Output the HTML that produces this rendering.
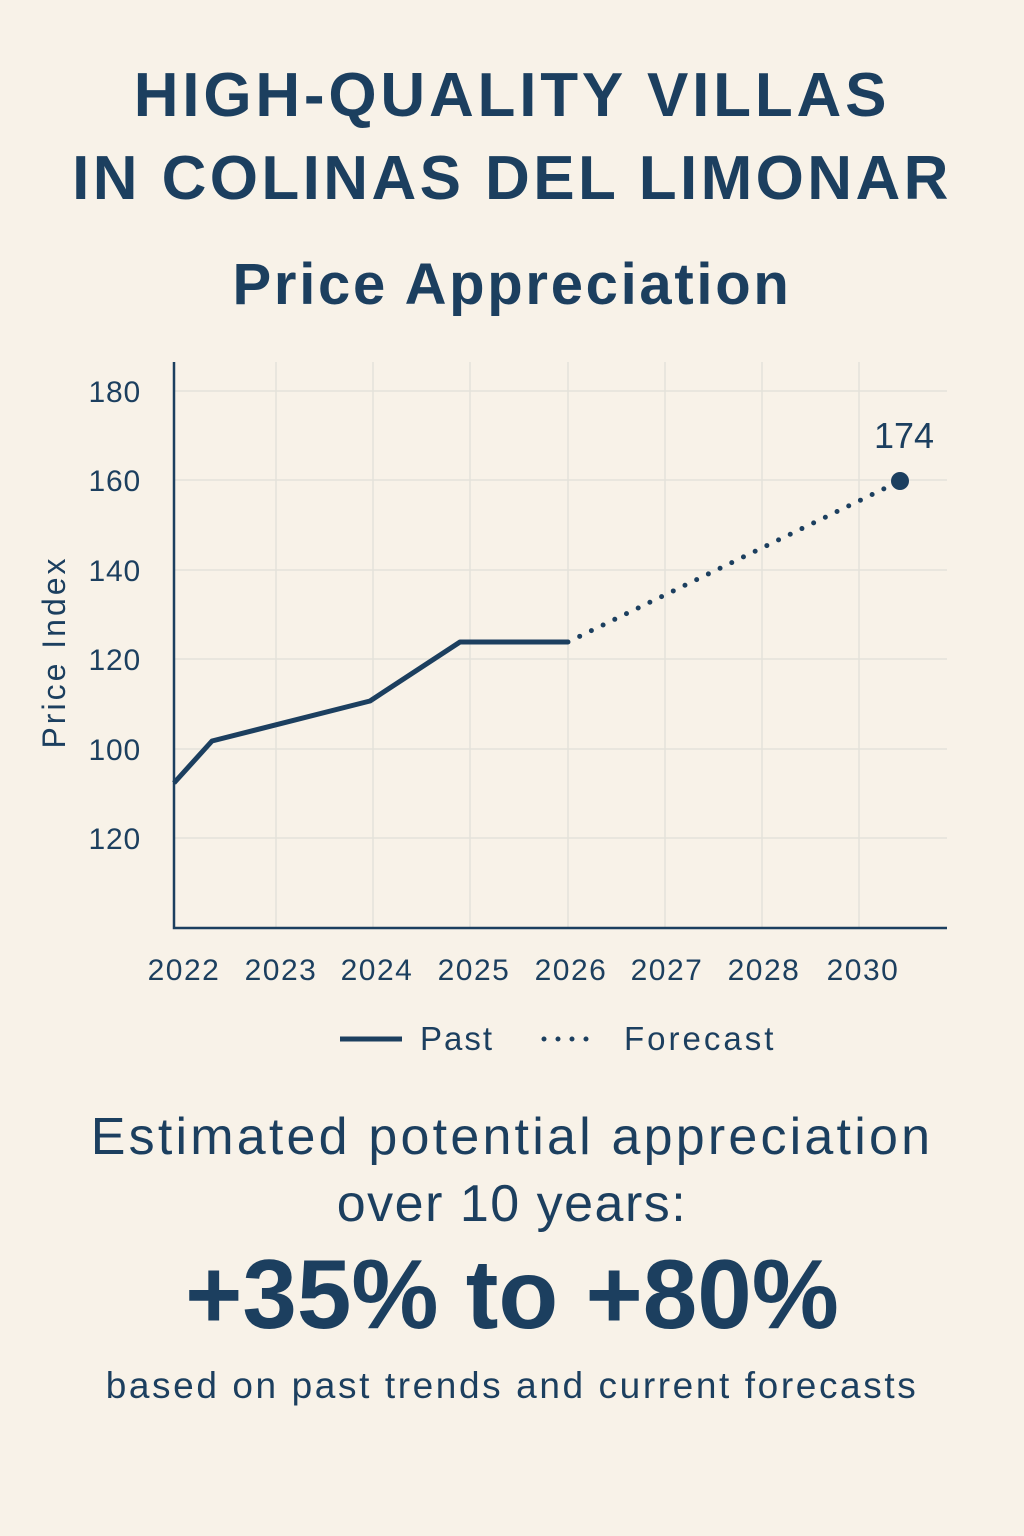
<!DOCTYPE html>
<html><head><meta charset="utf-8"><style>
html,body{margin:0;padding:0;}
body{width:1024px;height:1536px;background:#f8f2e8;font-family:"Liberation Sans","DejaVu Sans",sans-serif;color:#1c3f5f;position:relative;overflow:hidden}
.t{position:absolute;left:0;width:1024px;text-align:center;white-space:nowrap}
</style></head><body>
<div class="t" style="top:60px;font-size:62px;font-weight:bold;letter-spacing:3.8px;line-height:72px">HIGH-QUALITY VILLAS</div>
<div class="t" style="top:143px;font-size:62px;font-weight:bold;letter-spacing:3.4px;line-height:72px">IN COLINAS DEL LIMONAR</div>
<div class="t" style="top:250px;font-size:58px;font-weight:bold;letter-spacing:2.7px;line-height:70px">Price Appreciation</div>
<svg width="1024" height="1100" style="position:absolute;left:0;top:0" font-family="Liberation Sans, sans-serif" fill="#1c3f5f">
<g stroke="#e4e2da" stroke-width="1.5">
<line x1="174" x2="947" y1="391" y2="391"/><line x1="174" x2="947" y1="480" y2="480"/><line x1="174" x2="947" y1="570" y2="570"/><line x1="174" x2="947" y1="659" y2="659"/><line x1="174" x2="947" y1="749" y2="749"/><line x1="174" x2="947" y1="838" y2="838"/>
<line x1="276" x2="276" y1="362" y2="928"/><line x1="373" x2="373" y1="362" y2="928"/><line x1="470" x2="470" y1="362" y2="928"/><line x1="568" x2="568" y1="362" y2="928"/><line x1="665" x2="665" y1="362" y2="928"/><line x1="762" x2="762" y1="362" y2="928"/><line x1="859" x2="859" y1="362" y2="928"/>
</g>
<path d="M174 362V928H947" stroke="#1c3f5f" stroke-width="2.5" fill="none"/>
<g font-size="30" text-anchor="end" letter-spacing="0.8">
<text x="141" y="402">180</text><text x="141" y="491">160</text><text x="141" y="581">140</text><text x="141" y="670">120</text><text x="141" y="760">100</text><text x="141" y="849">120</text>
</g>
<g font-size="30" text-anchor="middle" letter-spacing="1.5">
<text x="184" y="980">2022</text><text x="281" y="980">2023</text><text x="377" y="980">2024</text><text x="474" y="980">2025</text><text x="571" y="980">2026</text><text x="667" y="980">2027</text><text x="764" y="980">2028</text><text x="863" y="980">2030</text>
</g>
<text transform="translate(65,652) rotate(-90)" font-size="32" text-anchor="middle" letter-spacing="3">Price Index</text>
<polyline points="174,783 212,741 370,701 460,642 568,642" fill="none" stroke="#1c3f5f" stroke-width="5" stroke-linejoin="round"/>
<line x1="568" y1="642" x2="900" y2="481" stroke="#1c3f5f" stroke-width="5" stroke-dasharray="0 13" stroke-linecap="round"/>
<circle cx="900" cy="481" r="9"/>
<text x="904" y="448" font-size="36" text-anchor="middle">174</text>
<line x1="340" y1="1039" x2="402" y2="1039" stroke="#1c3f5f" stroke-width="5"/>
<text x="420" y="1050" font-size="33" letter-spacing="2">Past</text>
<line x1="544" y1="1039" x2="600" y2="1039" stroke="#1c3f5f" stroke-width="5" stroke-dasharray="0 14" stroke-linecap="round"/>
<text x="624" y="1050" font-size="33" letter-spacing="3">Forecast</text>
</svg>
<div class="t" style="top:1106px;font-size:52px;letter-spacing:3.2px;line-height:62px">Estimated potential appreciation</div>
<div class="t" style="top:1173px;font-size:52px;letter-spacing:1.5px;line-height:62px">over 10 years:</div>
<div class="t" style="top:1238px;font-size:98px;font-weight:bold;line-height:112px">+35% to +80%</div>
<div class="t" style="top:1362px;font-size:37px;letter-spacing:2.6px;line-height:48px">based on past trends and current forecasts</div>
</body></html>
